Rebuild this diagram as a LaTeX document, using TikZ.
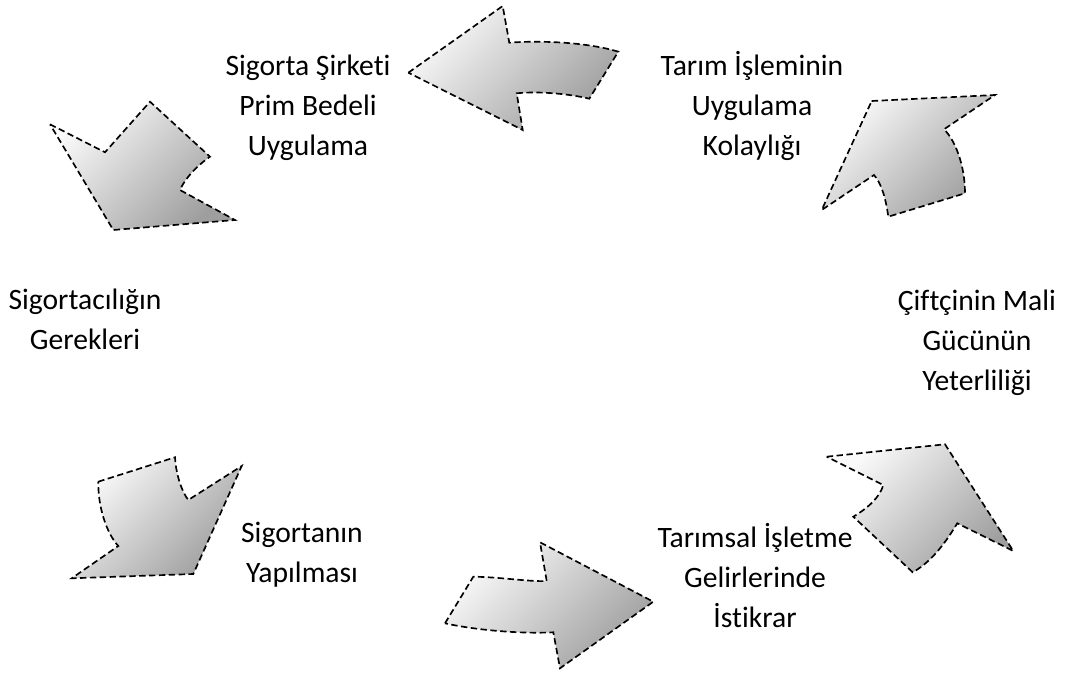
\documentclass[tikz,border=0pt]{standalone}
\usepackage{fontspec}
\setmainfont[Ligatures=NoCommon]{Carlito}
\begin{document}
\begin{tikzpicture}[x=0.75pt,y=-0.75pt,
  cyclearrow/.style={draw=black, line width=1.25pt, dash pattern=on 4.8pt off 2.6pt,
    line join=miter, top color=black!2, bottom color=black!38, shading angle=45},
  label/.style={align=center, anchor=base, inner sep=0pt,
    font=\fontsize{22.2}{30}\selectfont}]
\useasboundingbox (0,0) rectangle (1072,673);

% curved arrows around the cycle
\path[cyclearrow] (408.3,72.7) -- (502.7,6) -- (509.3,42.7)
  .. controls (545,40) and (590,43) .. (618.3,51.7) -- (589.3,98.7)
  .. controls (570,94) and (540,91) .. (516.7,93.3) -- (522.7,130) -- cycle;

\path[cyclearrow] (871.7,101) -- (995,95) -- (944,129.3)
  .. controls (955,140) and (965,165) .. (965,193.3) -- (888.3,216.7)
  .. controls (886,200) and (882,184) .. (874,175) -- (821.7,210) -- cycle;

\path[cyclearrow] (50,124.3) -- (105,152.3) -- (150,101.7) -- (210,156.7)
  .. controls (198,165) and (185,178) .. (180,190) -- (235,220) -- (113.3,230) -- cycle;

\path[cyclearrow] (98.3,481.7) -- (175,457.3)
  .. controls (176,475) and (182,492) .. (188.3,500) -- (241.7,466) -- (193.3,574)
  -- (71.7,578.3) -- (118.3,546) .. controls (108,535) and (98,510) .. cycle;

\path[cyclearrow] (445,623.3) -- (473.3,576.7)
  .. controls (500,577) and (530,582) .. (546.7,581) -- (540,542.3) -- (653.3,601.7)
  -- (560,668.3) -- (553.3,632.3) .. controls (520,634) and (475,630) .. cycle;

\path[cyclearrow] (826.7,456.7) -- (945,444.3) -- (1013.3,551) -- (957.3,523.3)
  .. controls (950,535) and (935,560) .. (912.7,572.3) -- (853.3,516.7)
  .. controls (868,508) and (880,497) .. (883.3,485) -- cycle;

% stage labels (anchored at the baseline of their last line)
\node[label] (prim)     at (308,156) {Sigorta Şirketi\\Prim Bedeli\\Uygulama};
\node[label] (kolay)    at (752,156) {Tarım İşleminin\\Uygulama\\Kolaylığı};
\node[label] (gerek)    at (85,350)  {Sigortacılığın\\Gerekleri};
\node[label] (mali)     at (977,391) {Çiftçinin Mali\\Gücünün\\Yeterliliği};
\node[label] (yapil)    at (302,583) {Sigortanın\\Yapılması};
\node[label] (istikrar) at (755,628) {Tarımsal İşletme\\Gelirlerinde\\İstikrar};
\end{tikzpicture}
\end{document}
